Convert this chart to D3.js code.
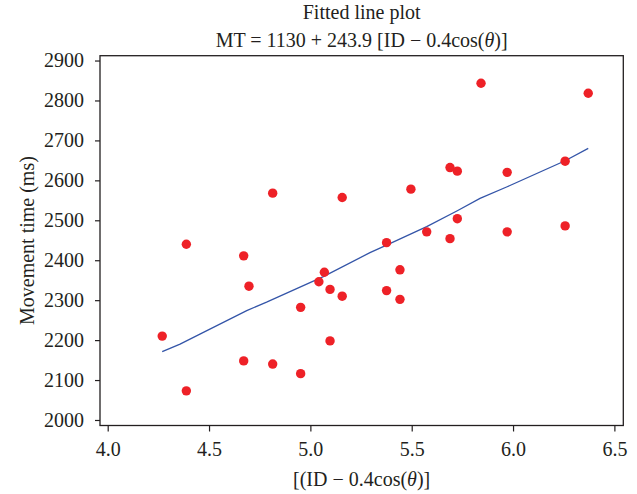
<!DOCTYPE html>
<html>
<head>
<meta charset="utf-8">
<script src="https://cdn.jsdelivr.net/npm/d3@7"></script>
<style>
  body { margin: 0; background: #fff; }
  text { font-family: "Liberation Serif", "DejaVu Serif", serif; fill: #231f20; }
</style>
</head>
<body>
<div id="chart"></div>
<script>
// Observed points: x = ID - 0.4cos(theta), y = movement time (ms)
const pointX = [4.269, 4.388, 4.388, 4.671, 4.671, 4.697, 4.814, 4.814, 4.952, 4.952,
  5.042, 5.069, 5.097, 5.097, 5.157, 5.157, 5.376, 5.376, 5.442, 5.442,
  5.496, 5.574, 5.689, 5.689, 5.725, 5.725, 5.842, 5.971, 5.971, 6.257, 6.257, 6.371];
const pointY = [2210, 2073, 2440, 2411, 2148, 2335, 2568, 2140, 2282, 2116,
  2346, 2370, 2327, 2198, 2310, 2557, 2444, 2324, 2376, 2302,
  2578, 2471, 2632, 2454, 2623, 2504, 2843, 2620, 2471, 2648, 2486, 2818];
// Fitted line vertices
const fitX = [4.269, 4.357, 4.455, 4.686, 4.784, 5.064, 5.294, 5.376, 5.574, 5.725, 5.837, 5.971, 6.257, 6.371];
const fitY = [2171, 2190, 2215, 2274, 2295, 2359, 2419, 2438, 2484, 2524, 2555, 2584, 2649, 2680];
const xTicks = [4.0, 4.5, 5.0, 5.5, 6.0, 6.5];
const yTicks = [2000, 2100, 2200, 2300, 2400, 2500, 2600, 2700, 2800, 2900];

const W = 637, H = 494;
const margin = {top: 55.7, right: 13.7, bottom: 68.5, left: 100};
const width = W - margin.left - margin.right,
      height = H - margin.top - margin.bottom;

const svg = d3.select("#chart").append("svg")
  .attr("width", W).attr("height", H);
const g = svg.append("g")
  .attr("transform", "translate(" + margin.left + "," + margin.top + ")");

const xScale = d3.scaleLinear().domain([3.962, 6.544]).range([0, width]);
const yScale = d3.scaleLinear().domain([1986.2, 2912.1]).range([height, 0]);

// Frame
g.append("rect")
  .attr("width", width).attr("height", height)
  .attr("fill", "none").attr("stroke", "#231f20").attr("stroke-width", 1.3);

// Axes
const xAxis = g.append("g")
  .attr("transform", "translate(0," + height + ")")
  .call(d3.axisBottom(xScale).tickValues(xTicks).tickFormat(d3.format(".1f"))
    .tickSize(6).tickPadding(10.5).tickSizeOuter(0));
const yAxis = g.append("g")
  .call(d3.axisLeft(yScale).tickValues(yTicks).tickFormat(d3.format("d"))
    .tickSize(5).tickPadding(11).tickSizeOuter(0));
[xAxis, yAxis].forEach(ax => {
  ax.select(".domain").remove();
  ax.selectAll("line").attr("stroke", "#231f20").attr("stroke-width", 1.2);
  ax.selectAll("text").style("font-size", "20px").attr("fill", "#231f20")
    .style("font-family", "'Liberation Serif', 'DejaVu Serif', serif");
});

// Fitted line
const line = d3.line()
  .x((d, i) => xScale(fitX[i]))
  .y((d, i) => yScale(fitY[i]));
g.append("path")
  .attr("d", line(fitX))
  .attr("fill", "none")
  .attr("stroke", "#3455a8")
  .attr("stroke-width", 1.3);

// Points
g.selectAll("circle.pt").data(pointX).enter().append("circle")
  .attr("class", "pt")
  .attr("cx", (d) => xScale(d))
  .attr("cy", (d, i) => yScale(pointY[i]))
  .attr("r", 4.7)
  .attr("fill", "#ee2127");

// Titles
const cx = margin.left + width / 2;
svg.append("text")
  .attr("x", cx).attr("y", 19)
  .attr("text-anchor", "middle").style("font-size", "20px")
  .text("Fitted line plot");
const t2 = svg.append("text")
  .attr("x", cx).attr("y", 47)
  .attr("text-anchor", "middle").style("font-size", "20px");
t2.append("tspan").text("MT = 1130 + 243.9 [ID \u2212 0.4cos(");
t2.append("tspan").style("font-style", "italic").text("\u03b8");
t2.append("tspan").text(")]");

// X label
const xl = svg.append("text")
  .attr("x", cx).attr("y", 486)
  .attr("text-anchor", "middle").style("font-size", "20px");
xl.append("tspan").text("[(ID \u2212 0.4cos(");
xl.append("tspan").style("font-style", "italic").text("\u03b8");
xl.append("tspan").text(")]");

// Y label
svg.append("text")
  .attr("transform", "rotate(-90)")
  .attr("x", -(margin.top + height / 2))
  .attr("y", 34)
  .attr("text-anchor", "middle").style("font-size", "20px")
  .text("Movement time (ms)");
</script>
</body>
</html>
